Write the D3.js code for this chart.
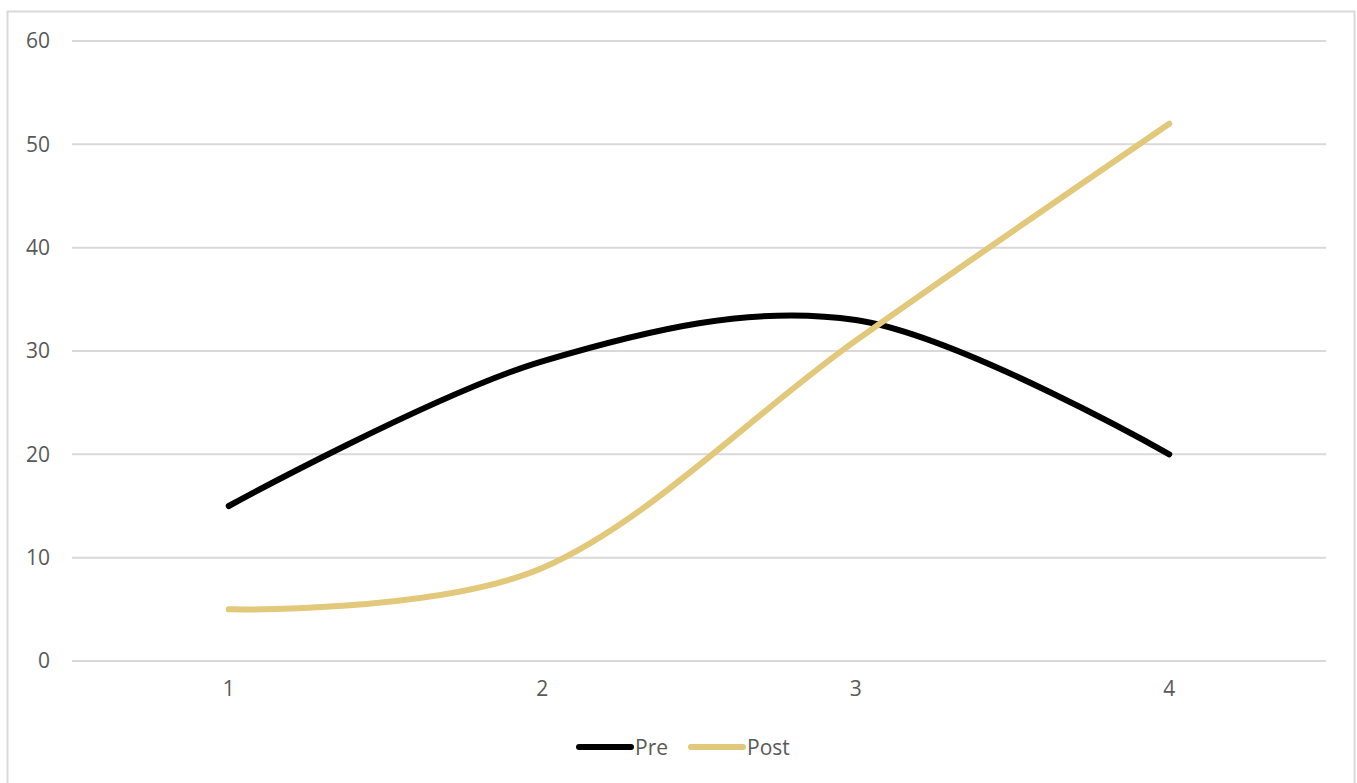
<!DOCTYPE html>
<html>
<head>
<meta charset="utf-8">
<script src="https://cdn.jsdelivr.net/npm/d3@7"></script>
<style>
  html, body { margin: 0; padding: 0; background: #fff; }
  svg { display: block; }
  text { font-family: "Open Sans", "Noto Sans", sans-serif; fill: #595959; }
</style>
</head>
<body>
<svg id="chart" width="1357" height="783"></svg>
<script>
// Chart data
const categories = ["1", "2", "3", "4"];
const preValues = [15, 29, 33, 20];
const postValues = [5, 9, 31, 52];
const yTicks = [0, 10, 20, 30, 40, 50, 60];
const seriesNames = ["Pre", "Post"];
const seriesColors = ["#000000", "#E2C87A"];

const svg = d3.select("#chart");
const W = 1357, H = 783;
const fontSize = 21;

// Outer frame
svg.append("rect")
  .attr("x", 7.5).attr("y", 11.5)
  .attr("width", W - 10).attr("height", H)
  .attr("fill", "#fff").attr("stroke", "#d9d9d9").attr("stroke-width", 2);

const plot = { left: 72, right: 1326, top: 41, bottom: 661 };

const x = d3.scaleBand().domain(categories).range([plot.left, plot.right]);
const y = d3.scaleLinear().domain([0, 60]).range([plot.bottom, plot.top]);

// Horizontal gridlines
svg.append("g").selectAll("line").data(yTicks).join("line")
  .attr("x1", plot.left).attr("x2", plot.right)
  .attr("y1", d => y(d)).attr("y2", d => y(d))
  .attr("stroke", "#d9d9d9").attr("stroke-width", 2);

// Y axis labels
const yAxis = d3.axisLeft(y).tickValues(yTicks).tickSize(0).tickPadding(0);
const gy = svg.append("g").attr("transform", `translate(50,0)`).call(yAxis);
gy.select(".domain").remove();
gy.selectAll("text").attr("font-size", fontSize).attr("text-anchor", "end")
  .style("fill", "#595959").style("font-family", "'Open Sans', sans-serif");

// X axis labels
const xAxis = d3.axisBottom(x).tickSize(0).tickPadding(0);
const gx = svg.append("g").attr("transform", `translate(0,${plot.bottom + 20})`).call(xAxis);
gx.select(".domain").remove();
gx.selectAll("text").attr("font-size", fontSize)
  .style("fill", "#595959").style("font-family", "'Open Sans', sans-serif");

// Smoothed series lines
const line = d3.line()
  .x((d, i) => x(categories[i]) + x.bandwidth() / 2)
  .y(d => y(d))
  .curve(d3.curveCardinal.tension(0));

[preValues, postValues].forEach((vals, k) => {
  svg.append("path")
    .datum(vals)
    .attr("d", line)
    .attr("fill", "none")
    .attr("stroke", seriesColors[k])
    .attr("stroke-width", 6)
    .attr("stroke-linecap", "round")
    .attr("stroke-linejoin", "round");
});

// Legend
const legendItems = [
  { name: seriesNames[0], color: seriesColors[0], x: 579 },
  { name: seriesNames[1], color: seriesColors[1], x: 691 }
];
const lg = svg.append("g");
legendItems.forEach(it => {
  lg.append("line")
    .attr("x1", it.x).attr("x2", it.x + 52)
    .attr("y1", 747).attr("y2", 747)
    .attr("stroke", it.color).attr("stroke-width", 6)
    .attr("stroke-linecap", "round");
  lg.append("text")
    .attr("x", it.x + 56).attr("y", 755)
    .attr("font-size", fontSize)
    .text(it.name);
});
</script>
</body>
</html>
